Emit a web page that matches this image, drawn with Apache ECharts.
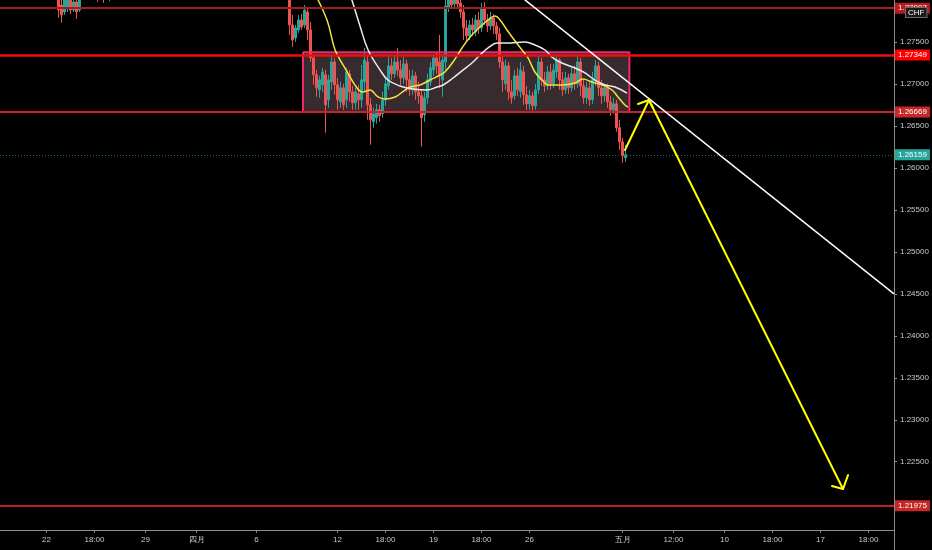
<!DOCTYPE html>
<html>
<head>
<meta charset="utf-8">
<script src="https://cdn.jsdelivr.net/npm/echarts@6/dist/echarts.min.js"></script>
<style>
html,body{margin:0;padding:0;background:#000;}
#chart{width:932px;height:550px;}
</style>
</head>
<body>
<div id="chart"></div>
<script>
// number of bar slots along the time axis
var slotCount = 298;
// time axis labels (slot index -> text)
var xLabelSlots = [15, 31, 48, 65, 85, 112, 128, 144, 160, 176, 207, 224, 241, 257, 273, 289];
var xLabelTexts = ['22', '18:00', '29', '四月', '6', '12', '18:00', '19', '18:00', '26', '五月', '12:00', '10', '18:00', '17', '18:00'];
// price axis
var yTicks = [1.225, 1.23, 1.235, 1.24, 1.245, 1.25, 1.255, 1.26, 1.265, 1.27, 1.275];
var yMin = 1.21686;
var yMax = 1.28004;

// candles [open, close, low, high]
var leftStart = 19;
var leftCandles = [
    [1.28064,1.27885,1.27790,1.28123],
    [1.27945,1.27826,1.27731,1.28064],
    [1.27861,1.28028,1.27826,1.28099],
    [1.27909,1.28004,1.27861,1.28076],
    [1.28004,1.27885,1.27838,1.28076],
    [1.27885,1.27981,1.27861,1.28099],
    [1.27981,1.27861,1.27778,1.28052],
    [1.27885,1.28040,1.27861,1.28123]
];
var topStart = 32;
var topCandles = [
    [1.28100,1.28040,1.27981,1.28150],
    null,
    [1.28080,1.28020,1.27969,1.28120],
    null,
    [1.28030,1.28090,1.27990,1.28130]
];
var mainStart = 96;
var mainCandles = [
    [1.28064,1.27707,1.27588,1.28123],[1.27707,1.27528,1.27445,1.27826],[1.27552,1.27671,1.27504,1.27707],
    [1.27647,1.27766,1.27611,1.27826],[1.27766,1.27683,1.27647,1.27838],[1.27707,1.27885,1.27671,1.27945],
    [1.27861,1.27647,1.27528,1.27909],[1.27647,1.27314,1.27266,1.27742],[1.27314,1.27112,1.26993,1.27350],
    [1.27112,1.26957,1.26850,1.27171],[1.26933,1.27052,1.26838,1.27100],[1.26993,1.27147,1.26909,1.27195],
    [1.27112,1.26755,1.26421,1.27171],[1.26814,1.27052,1.26719,1.27112],[1.27028,1.27266,1.26933,1.27350],
    [1.27266,1.26993,1.26874,1.27314],[1.26993,1.26814,1.26695,1.27076],[1.26790,1.26957,1.26719,1.27028],
    [1.26957,1.26755,1.26695,1.27005],[1.26814,1.27147,1.26719,1.27195],[1.27124,1.26909,1.26790,1.27171],
    [1.26909,1.26778,1.26695,1.26981],[1.26778,1.26909,1.26695,1.26957],[1.26885,1.26814,1.26695,1.26993],
    [1.26814,1.27052,1.26719,1.27231],[1.27028,1.27290,1.26909,1.27433],[1.27266,1.26755,1.26576,1.27350],
    [1.26755,1.26576,1.26279,1.26838],[1.26552,1.26648,1.26481,1.26719],[1.26600,1.26695,1.26529,1.26767],
    [1.26695,1.26624,1.26552,1.26755],[1.26648,1.26814,1.26600,1.26909],[1.26814,1.27005,1.26743,1.27076],
    [1.26981,1.27219,1.26933,1.27338],[1.27219,1.27124,1.27052,1.27314],[1.27124,1.27266,1.27076,1.27350],
    [1.27266,1.27171,1.27100,1.27433],[1.27171,1.27076,1.26993,1.27290],[1.27076,1.27243,1.27005,1.27326],
    [1.27243,1.27052,1.26909,1.27290],[1.27052,1.26933,1.26862,1.27171],[1.26933,1.27100,1.26874,1.27171],
    [1.27100,1.26909,1.26814,1.27147],[1.26909,1.26862,1.26767,1.27028],[1.26862,1.26600,1.26255,1.26933],
    [1.26636,1.26838,1.26552,1.26909],[1.26838,1.27052,1.26767,1.27124],[1.27028,1.27195,1.26981,1.27266],
    [1.27171,1.27314,1.27100,1.27350],[1.27314,1.27219,1.27124,1.27385],[1.27266,1.27100,1.26957,1.27588],
    [1.27052,1.27290,1.26850,1.27350],[1.27266,1.27933,1.27171,1.28004],[1.27909,1.28064,1.27861,1.28183],
    [1.28064,1.27945,1.27909,1.28147],[1.27957,1.28052,1.27921,1.28147],[1.28040,1.27957,1.27909,1.28123],
    [1.27969,1.27861,1.27790,1.28040],[1.27861,1.27671,1.27528,1.27945],[1.27671,1.27576,1.27504,1.27766],
    [1.27576,1.27707,1.27528,1.27766],[1.27707,1.27647,1.27576,1.27790],[1.27623,1.27766,1.27576,1.27826],
    [1.27766,1.27671,1.27600,1.27861],[1.27671,1.27909,1.27623,1.27969],[1.27909,1.27766,1.27707,1.27981],
    [1.27766,1.27695,1.27623,1.27838],[1.27695,1.27790,1.27647,1.27861],[1.27790,1.27695,1.27600,1.27838],
    [1.27695,1.27600,1.27528,1.27742],[1.27600,1.27266,1.27195,1.27671],[1.27266,1.27052,1.26909,1.27338],
    [1.27005,1.27219,1.26933,1.27290],[1.27219,1.26909,1.26814,1.27266],[1.26909,1.26838,1.26767,1.27052],
    [1.26862,1.27100,1.26814,1.27171],[1.27100,1.26933,1.26862,1.27195],[1.26909,1.27171,1.26838,1.27266],
    [1.27147,1.26874,1.26755,1.27219],[1.26874,1.26767,1.26695,1.26981],[1.26767,1.26862,1.26695,1.26933],
    [1.26862,1.26743,1.26683,1.26909],[1.26743,1.26933,1.26695,1.27005],[1.26933,1.27266,1.26885,1.27338],
    [1.27266,1.27052,1.26981,1.27314],[1.27052,1.26981,1.26909,1.27147],[1.26981,1.27147,1.26933,1.27219],
    [1.27147,1.27005,1.26933,1.27243],[1.27005,1.27171,1.26957,1.27243],[1.27147,1.27290,1.27076,1.27338],
    [1.27290,1.27052,1.26933,1.27314],[1.27052,1.26933,1.26862,1.27147],[1.26933,1.27076,1.26885,1.27147],
    [1.27076,1.26957,1.26885,1.27124],[1.26957,1.27124,1.26909,1.27195],[1.27124,1.27005,1.26933,1.27219],
    [1.27005,1.27266,1.26957,1.27350],[1.27266,1.26981,1.26862,1.27314],[1.26981,1.26838,1.26767,1.27052],
    [1.26838,1.26957,1.26767,1.27028],[1.26957,1.26814,1.26743,1.27028],[1.26814,1.27052,1.26767,1.27147],
    [1.27052,1.27219,1.26981,1.27290],[1.27219,1.26957,1.26862,1.27266],[1.26957,1.26862,1.26767,1.27052],
    [1.26862,1.26957,1.26790,1.27005],[1.26957,1.26790,1.26719,1.27005],[1.26790,1.26695,1.26624,1.26862],
    [1.26695,1.26767,1.26648,1.26838],[1.26767,1.26481,1.26433,1.26814],[1.26481,1.26314,1.26219,1.26576],
    [1.26314,1.26148,1.26064,1.26362],[1.26124,1.26159,1.26076,1.26279]
];

// moving averages [slot, price]
var yellowMA = [
    [103.8,1.28123],[108.5,1.27766],[111.2,1.27408],[114.5,1.27193],[118.5,1.26955],[120.5,1.26907],
    [122.8,1.26931],[125.5,1.26848],[127.8,1.26824],[131.2,1.26848],[134.5,1.26931],[136.2,1.26967],
    [139.5,1.26991],[142.8,1.27050],[146.2,1.27110],[147.8,1.27146],[150.5,1.27265],[153.5,1.27432],
    [156.2,1.27563],[159.5,1.27682],[162.2,1.27766],[164.5,1.27813],[166.2,1.27766],[168.5,1.27646],
    [171.2,1.27515],[173.5,1.27408],[175.5,1.27313],[177.8,1.27146],[180.2,1.27050],[182.2,1.26991],
    [186.8,1.26991],[191.2,1.27014],[193.8,1.27062],[196.8,1.27026],[200.2,1.26991],[203.5,1.26931],
    [205.5,1.26848],[207.8,1.26752],[208.8,1.26728]
];
var whiteMA = [
    [115.5,1.28147],[116.8,1.28004],[119.5,1.27694],[122.2,1.27408],[126.2,1.27169],[128.8,1.27050],
    [132.8,1.26979],[137.2,1.26943],[141.8,1.26931],[145.2,1.26967],[147.2,1.26991],[150.5,1.27074],
    [153.8,1.27169],[156.8,1.27253],[159.5,1.27348],[162.2,1.27432],[165.2,1.27491],[168.5,1.27491],
    [174.5,1.27503],[177.8,1.27468],[181.2,1.27408],[183.5,1.27324],[186.8,1.27253],[191.2,1.27193],
    [194.5,1.27134],[197.8,1.27050],[201.2,1.26991],[204.5,1.26967],[208.5,1.26895]
];

// drawings
var trendLine = [[170, 1.28133], [297.5, 1.24500]];
var arrowLines = [
    [[207.83,1.26216],[215.83,1.26812]],
    [[212.17,1.26764],[215.83,1.26812],[217.17,1.26716]],
    [[215.83,1.26812],[280.5,1.22174]],
    [[276.83,1.22210],[280.5,1.22174],[282.17,1.22341]]
];
var boxLeft = 100.5, boxRight = 209.3, boxTop = 1.27380, boxBottom = 1.26669;

// horizontal levels
var levelPrices = [1.27907, 1.27349, 1.26669, 1.21975];
var lastPrice = 1.26159;

var FONT = '"Liberation Sans Narrow", "Liberation Sans", sans-serif';
var levelLine = ['#a31d1d', '#f20d0d', '#d0202a', '#c0202a'];
var levelTag = ['#b71c1c', '#ff0000', '#c62828', '#c62828'];

var categories = [];
var candles = [];
for (var i = 0; i < slotCount; i++) {
    categories.push(String(i));
    candles.push(['-', '-', '-', '-']);
}
function putBlock(start, block) {
    for (var k = 0; k < block.length; k++) {
        if (block[k]) candles[start + k] = block[k];
    }
}
putBlock(leftStart, leftCandles);
putBlock(topStart, topCandles);
putBlock(mainStart, mainCandles);

var labelAt = {};
xLabelSlots.forEach(function (s, k) { labelAt[s] = xLabelTexts[k]; });
function hasLabel(idx) { return labelAt[idx] !== undefined; }

var tagLabel = function (bg) {
    return {
        show: true, position: 'end', distance: 1,
        color: '#fff', fontSize: 8, fontFamily: FONT,
        backgroundColor: bg, padding: [2, 3, 1, 3],
        formatter: function (p) { return Number(p.value).toFixed(5); }
    };
};

var markLines = levelPrices.map(function (p, k) {
    return {
        yAxis: p,
        lineStyle: {color: levelLine[k], width: k == 1 ? 2.5 : 2, type: 'solid'},
        label: tagLabel(levelTag[k])
    };
});
markLines.push({
    yAxis: lastPrice,
    lineStyle: {color: '#1f6f68', width: 1, type: [1, 2]},
    label: tagLabel('#26a69a')
});

var boxOutline = [[boxLeft, boxTop], [boxRight, boxTop], [boxRight, boxBottom], [boxLeft, boxBottom], [boxLeft, boxTop]];

var series = [{
    type: 'candlestick',
    xAxisIndex: 0, yAxisIndex: 0,
    data: candles,
    barWidth: 2,
    clip: true,
    z: 2,
    itemStyle: {
        color: '#26a69a', color0: '#ef5350',
        borderColor: '#26a69a', borderColor0: '#ef5350',
        borderWidth: 1
    },
    markLine: {
        silent: true, symbol: ['none', 'none'], precision: 5,
        animation: false,
        data: markLines
    }
}, {
    type: 'line',
    xAxisIndex: 1, yAxisIndex: 0,
    data: boxOutline,
    symbol: 'none', z: 3,
    lineStyle: {color: '#f0286a', width: 2},
    markArea: {
        silent: true,
        itemStyle: {color: 'rgba(110,85,95,0.5)'},
        data: [[{coord: [boxLeft, boxTop]}, {coord: [boxRight, boxBottom]}]]
    }
}, {
    type: 'line',
    xAxisIndex: 1, yAxisIndex: 0,
    data: yellowMA, smooth: 0.4, symbol: 'none', z: 4, clip: true,
    lineStyle: {color: '#f2e33c', width: 1.5}
}, {
    type: 'line',
    xAxisIndex: 1, yAxisIndex: 0,
    data: whiteMA, smooth: 0.4, symbol: 'none', z: 4, clip: true,
    lineStyle: {color: '#ececec', width: 1.5}
}, {
    type: 'line',
    xAxisIndex: 1, yAxisIndex: 0,
    data: trendLine, symbol: 'none', z: 5, clip: true,
    lineStyle: {color: '#ffffff', width: 1.5}
}];

arrowLines.forEach(function (pts) {
    series.push({
        type: 'line',
        xAxisIndex: 1, yAxisIndex: 0,
        data: pts, symbol: 'none', z: 6,
        lineStyle: {color: '#ffff00', width: 2, cap: 'round', join: 'round'}
    });
});

var chart = echarts.init(document.getElementById('chart'));
var option = {
    backgroundColor: '#000000',
    animation: false,
    grid: {left: 0, right: 38, top: 0, bottom: 20, containLabel: false, outerBoundsMode: 'none'},
    xAxis: [{
        type: 'category',
        data: categories,
        boundaryGap: true,
        axisLine: {onZero: false, lineStyle: {color: '#8c8c8c', width: 1}},
        axisTick: {show: true, interval: hasLabel, alignWithLabel: true, length: 3, lineStyle: {color: '#8c8c8c'}},
        axisLabel: {
            interval: hasLabel, color: '#c9c9c9', fontSize: 8, fontFamily: FONT, margin: 6,
            formatter: function (v, idx) { return labelAt[idx] || ''; }
        },
        splitLine: {show: false}
    }, {
        type: 'value',
        min: -0.5, max: slotCount - 0.5,
        show: false
    }],
    yAxis: [{
        type: 'value',
        position: 'right',
        min: yMin, max: yMax,
        axisLine: {show: true, onZero: false, lineStyle: {color: '#8c8c8c', width: 1}},
        axisTick: {show: true, customValues: yTicks, length: 3, lineStyle: {color: '#8c8c8c'}},
        axisLabel: {
            customValues: yTicks, color: '#c9c9c9', fontSize: 8, fontFamily: FONT, margin: 6,
            formatter: function (v) { return v.toFixed(5); }
        },
        splitLine: {show: false}
    }],
    graphic: [{
        type: 'line', silent: true,
        shape: {x1: 894.5, y1: 530, x2: 894.5, y2: 550},
        style: {stroke: '#8c8c8c', lineWidth: 1}
    }, {
        type: 'text', silent: true, z: 100,
        left: 905, top: 7,
        style: {
            text: 'CHF', fill: '#ffffff', font: '8px ' + FONT,
            backgroundColor: '#1a1a1a', borderColor: '#6a6a6a', borderWidth: 1,
            padding: [1, 2, 0, 2]
        }
    }],
    series: series
};
chart.setOption(option);
</script>
</body>
</html>
